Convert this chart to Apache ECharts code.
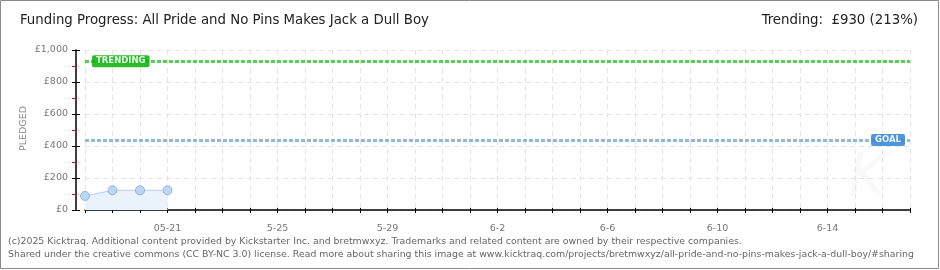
<!DOCTYPE html>
<html><head><meta charset="utf-8">
<script src="https://cdn.jsdelivr.net/npm/echarts@6/dist/echarts.min.js"></script>
<style>html,body{margin:0;padding:0;background:#fff}#c{width:940px;height:270px}</style>
</head><body><div id="c"></div>
<script>
const days = ['05-18','05-19','05-20','05-21','05-22','05-23','05-24','05-25','05-26','05-27','05-28','05-29','05-30','05-31','06-01','06-02','06-03','06-04','06-05','06-06','06-07','06-08','06-09','06-10','06-11','06-12','06-13','06-14','06-15','06-16','06-17'];
const tickDays = ['05-21','05-25','05-29','06-02','06-06','06-10','06-14'];
const tickText = ['05-21','5-25','5-29','6-2','6-6','6-10','6-14'];
const pledged = [88, 123, 123, 123];
const goal = 437;
const trending = 930;
const yTicks = [0, 200, 400, 600, 800, 1000];
const titleText = 'Funding Progress: All Pride and No Pins Makes Jack a Dull Boy';
const trendText = 'Trending:  £930 (213%)';
const footer1 = '(c)2025 Kicktraq. Additional content provided by Kickstarter Inc. and bretmwxyz. Trademarks and related content are owned by their respective companies.';
const footer2 = 'Shared under the creative commons (CC BY-NC 3.0) license. Read more about sharing this image at www.kicktraq.com/projects/bretmwxyz/all-pride-and-no-pins-makes-jack-a-dull-boy/#sharing';

const chart = echarts.init(document.getElementById('c'));
const lblFont = 'DejaVu Sans';
chart.setOption({
  animation: false,
  grid: {left: 85, right: 30, top: 50, bottom: 60},
  graphic: [
    {type: 'rect', shape: {x: 0.5, y: 0.5, width: 938, height: 268}, style: {fill: 'none', stroke: '#8a8a8a', lineWidth: 1}, z: 100},
    {type: 'text', left: 20, top: 13, style: {text: titleText, font: '14.8px "DejaVu Sans Condensed"', fill: '#222'}},
    {type: 'text', right: 22, top: 13, style: {text: trendText, font: '14.8px "DejaVu Sans Condensed"', fill: '#222'}},
    {type: 'text', left: 8, top: 237, style: {text: footer1, font: '9.4px "DejaVu Sans"', fill: '#666'}},
    {type: 'text', left: 8, top: 250, style: {text: footer2, font: '9.4px "DejaVu Sans"', fill: '#666'}},
    {type: 'text', left: 19, top: 106, rotation: Math.PI/2, originX: 0, originY: 0,
      style: {text: 'PLEDGED', font: '9.5px "DejaVu Sans"', fill: '#888', align: 'center', verticalAlign: 'middle'}},
    {type: 'text', left: 848, top: 150, style: {text: 'K', font: 'italic 60px "DejaVu Sans"', fill: '#f9f9f9'}, z: -1}
  ],
  xAxis: [{
    type: 'category', data: days, boundaryGap: false, offset: 9,
    axisLine: {lineStyle: {color: '#000', width: 1.5}},
    axisTick: {show: true, interval: 0, length: 3, lineStyle: {color: '#000'}},
    axisLabel: {interval: (i, v) => tickDays.includes(v), formatter: v => tickText[tickDays.indexOf(v)],
      color: '#777', fontFamily: lblFont, fontSize: 9.5, margin: 5},
    splitLine: {show: true, interval: 0, lineStyle: {color: '#e4e4e4', type: [5, 4]}}
  }, {
    type: 'category', data: days, boundaryGap: false, position: 'bottom', offset: 9,
    axisLine: {show: false}, axisLabel: {show: false}, splitLine: {show: false},
    axisTick: {show: true, interval: 0, inside: true, length: 2, lineStyle: {color: '#000'}}
  }],
  yAxis: [{
    type: 'value', min: yTicks[0], max: yTicks[yTicks.length-1], interval: 200, offset: 9,
    axisLine: {show: true, lineStyle: {color: '#000', width: 1.5}},
    axisTick: {show: true, length: 4, lineStyle: {color: '#000'}},
    minorTick: {show: true, splitNumber: 2, length: 4, lineStyle: {color: '#e00'}},
    axisLabel: {color: '#777', fontFamily: lblFont, fontSize: 9.5, margin: 8,
      formatter: v => '£' + v.toLocaleString('en-US')},
    splitLine: {show: true, lineStyle: {color: '#e4e4e4', type: [5, 4]}}
  }, {
    type: 'value', min: yTicks[0], max: yTicks[yTicks.length-1], interval: 200, position: 'left', offset: 9,
    axisLine: {show: false}, axisLabel: {show: false}, splitLine: {show: false},
    axisTick: {show: true, inside: true, length: 4, lineStyle: {color: '#000'}}
  }],
  series: [{
    type: 'line', data: pledged, xAxisIndex: 0, yAxisIndex: 0,
    symbol: 'circle', symbolSize: 9,
    itemStyle: {color: '#bcd6f3', borderColor: '#8fb2dc', borderWidth: 1},
    lineStyle: {color: '#b5d0ef', width: 1},
    areaStyle: {color: '#eaf2fc', opacity: 1},
    markLine: {
      silent: true, symbol: 'none',
      data: [
        {yAxis: trending, lineStyle: {color: '#44cc44', width: 3, type: [4, 2], opacity: 0.9},
          label: {show: true, formatter: 'TRENDING', position: 'insideStartTop', verticalAlign: 'middle', distance: [7, 0],
            color: '#fff', backgroundColor: '#13b513', borderRadius: 2, padding: [2, 4, 1, 4], fontFamily: lblFont, fontSize: 8.5, fontWeight: 'bold'}},
        {yAxis: goal, lineStyle: {color: '#8aafd6', width: 3, type: [4, 2], opacity: 0.9},
          label: {show: true, formatter: 'GOAL', position: 'insideEndTop', verticalAlign: 'middle', distance: [5, 0],
            color: '#fff', backgroundColor: '#3c8ad8', borderRadius: 2, padding: [2, 4, 1, 4], fontFamily: lblFont, fontSize: 8.5, fontWeight: 'bold'}}
      ]
    }
  }]
});
</script></body></html>
